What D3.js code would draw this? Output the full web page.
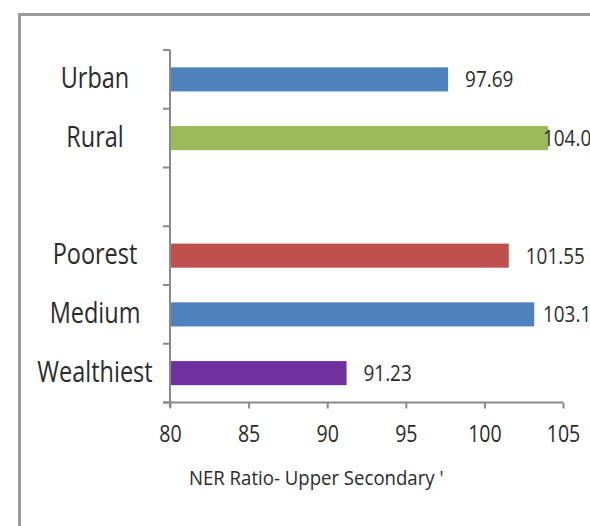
<!DOCTYPE html>
<html>
<head>
<meta charset="utf-8">
<script src="https://cdn.jsdelivr.net/npm/d3@7"></script>
<style>
  html, body { margin: 0; padding: 0; background: #fff; }
  svg { display: block; }
  text { font-family: 'Open Sans', sans-serif; fill: #2b2b2b; }
</style>
</head>
<body>
<svg id="chart" width="590" height="526"></svg>
<script>
const categories = ["Urban", "Rural", "", "Poorest", "Medium", "Wealthiest"];
const values = [97.69, 104.06, null, 101.55, 103.17, 91.23];
const valueLabels = ["97.69", "104.06", "", "101.55", "103.17", "91.23"];
const colors = ["#4F81BD", "#9BBB59", null, "#C0504D", "#4F81BD", "#7030A0"];
const xTicks = [80, 85, 90, 95, 100, 105];
const xTitle = "NER Ratio- Upper Secondary '";

(function () {
const svg = d3.select("#chart");
const W = 590, H = 526;

// outer frame
svg.append("path")
  .attr("d", `M19.5,${H + 5} L19.5,14.5 L${W + 5},14.5`)
  .attr("fill", "none").attr("stroke", "#9a9a9a").attr("stroke-width", 3);

const mLeft = 170, mRight = 563, mTop = 50, mBottom = 402.5;

const x = d3.scaleLinear().domain([80, 105]).range([mLeft, mRight]);
const y = d3.scaleBand().domain(categories.map((c, i) => i)).range([mTop, mBottom])
  .paddingInner(0.59).paddingOuter(0.295);
const yb = d3.scaleBand().domain(categories.map((c, i) => i)).range([mTop, mBottom]);

const data = categories.map((c, i) => ({ c, i, v: values[i], lab: valueLabels[i], col: colors[i] }))
  .filter(d => d.v != null);

svg.append("g").selectAll("rect").data(data).join("rect")
  .attr("x", x(80))
  .attr("y", d => y(d.i))
  .attr("width", d => x(d.v) - x(80))
  .attr("height", y.bandwidth())
  .attr("fill", d => d.col);

svg.append("g").selectAll("text").data(data).join("text")
  .attr("transform", d => `translate(${Math.min(x(d.v) + 17, 543)},${y(d.i) + y.bandwidth() / 2}) scale(0.86,1)`)
  .attr("dy", "0.36em")
  .attr("font-size", 22)
  .text(d => d.lab);

const axisColor = "#8a8a8a";
svg.append("line").attr("x1", mLeft).attr("x2", mLeft).attr("y1", mTop).attr("y2", mBottom + 5)
  .attr("stroke", axisColor).attr("stroke-width", 2);
const boundaries = categories.map((c, i) => yb(i)).concat([mBottom]);
svg.append("g").selectAll("line").data(boundaries).join("line")
  .attr("x1", mLeft - 7).attr("x2", mLeft).attr("y1", d => d).attr("y2", d => d)
  .attr("stroke", axisColor).attr("stroke-width", 2);

svg.append("g").selectAll("text").data(categories.map((c, i) => ({ c, i })).filter(d => d.c)).join("text")
  .attr("transform", d => `translate(95,${yb(d.i) + yb.bandwidth() / 2 - 2}) scale(0.81,1)`)
  .attr("dy", "0.36em")
  .attr("text-anchor", "middle")
  .attr("font-size", 29)
  .text(d => d.c);

const xAxis = d3.axisBottom(x).tickValues(xTicks).tickSize(6).tickPadding(17).tickFormat(d3.format("d"));
const gx = svg.append("g").attr("transform", `translate(0,${mBottom})`).call(xAxis);
gx.select(".domain").attr("stroke", axisColor).attr("stroke-width", 2).attr("d", `M${mLeft - 7},0H${mRight}`);
gx.selectAll(".tick line").attr("stroke", axisColor).attr("stroke-width", 2);
gx.selectAll(".tick text").attr("font-size", 23).attr("font-family", "'Open Sans', sans-serif")
  .attr("fill", "#2b2b2b").attr("transform", "scale(0.85,1)");

svg.append("text")
  .attr("transform", "translate(189,478) scale(0.93,1)")
  .attr("dy", "0.36em")
  .attr("font-size", 20)
  .text(xTitle);
})();
</script>
</body>
</html>
